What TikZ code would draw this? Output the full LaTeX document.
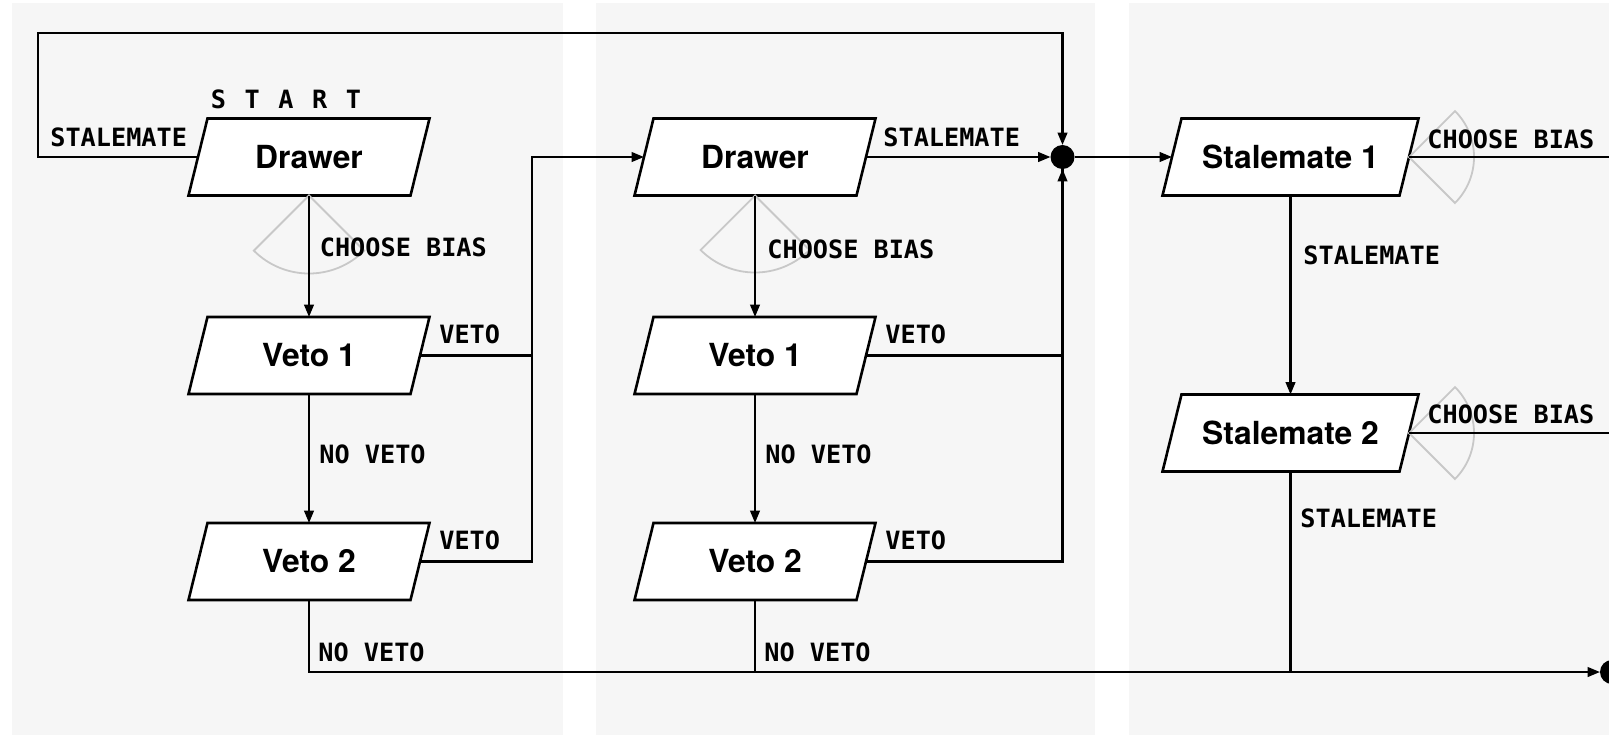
\documentclass[tikz,border=0pt]{standalone}
\usepackage{fontspec}
\usetikzlibrary{arrows.meta,calc}
\newfontfamily\boxfont{TeX Gyre Heros}
\newfontfamily\lblfont{DejaVu Sans Mono}
\definecolor{panelbg}{HTML}{F6F6F6}
\definecolor{wedgegray}{HTML}{C8C8C8}
\pgfdeclarelayer{panels}
\pgfdeclarelayer{shapes}
\pgfsetlayers{panels,shapes,main}

\begin{document}
\begin{tikzpicture}[x=0.5pt,y=-0.5pt,
  stepbox/.style={rectangle, minimum width=111pt, minimum height=38.5pt,
    inner sep=0pt, outer sep=0pt,
    font=\boxfont\bfseries\fontsize{15.9}{18}\selectfont},
  widebox/.style={stepbox, minimum width=118.5pt},
  boxline/.style={draw=black, line width=1.3pt, fill=white, line join=miter},
  conn/.style={draw=black, line width=1.1pt},
  arr/.style={conn, -{Triangle[length=6.2pt,width=4.8pt]}},
  wedge/.style={draw=wedgegray, line width=0.9pt},
  dot/.style={circle, fill=black, minimum size=12pt, inner sep=0pt, outer sep=0pt},
  lbl/.style={inner sep=0pt, anchor=west,
    font=\lblfont\bfseries\fontsize{12.6}{15}\selectfont},
  panel/.style={fill=panelbg, draw=none}
]
\useasboundingbox (0,0) rectangle (1609,735);
\clip (0,0) rectangle (1609,735);

% background columns
\begin{pgfonlayer}{panels}
  \fill[white] (0,0) rectangle (1609,735);
  \path[panel] (12,3) rectangle (563,735);
  \path[panel] (596,3) rectangle (1095,735);
  \path[panel] (1129,3) rectangle (1609,735);
\end{pgfonlayer}

% steps
\node[stepbox] (d1)  at (309,157)   {Drawer};
\node[stepbox] (v1a) at (309,355.5) {Veto 1};
\node[stepbox] (v2a) at (309,561.5) {Veto 2};
\node[stepbox] (d2)  at (755,157)   {Drawer};
\node[stepbox] (v1b) at (755,355.5) {Veto 1};
\node[stepbox] (v2b) at (755,561.5) {Veto 2};
\node[widebox] (s1)  at (1290.5,157) {Stalemate 1};
\node[widebox] (s2)  at (1290.5,433) {Stalemate 2};

% slanted outlines behind the step labels
\begin{pgfonlayer}{shapes}
\foreach \n in {d1,v1a,v2a,d2,v1b,v2b,s1,s2}{
  \path[boxline] ($(\n.north west)+(9.5,0)$) -- ($(\n.north east)+(9.5,0)$)
    -- ($(\n.south east)+(-9.5,0)$) -- ($(\n.south west)+(-9.5,0)$) -- cycle;
}
\end{pgfonlayer}

% junctions and helper points
\node[dot] (j1)   at (1062.5,157) {};
\node[dot] (jend) at (1612,672) {};
\coordinate (loopL) at (38,33);
\coordinate (kA) at (532,157);
\coordinate (cb1) at (1609,157);
\coordinate (cb2) at (1609,433);

% bias wedges
\draw[wedge] (d1.south) -- ++(45:78) arc[start angle=45, end angle=135, radius=78] -- cycle;
\draw[wedge] (d2.south) -- ++(45:77) arc[start angle=45, end angle=135, radius=77] -- cycle;
\draw[wedge] (s1.east) -- ++(-45:65) arc[start angle=-45, end angle=45, radius=65] -- cycle;
\draw[wedge] (s2.east) -- ++(-45:65) arc[start angle=-45, end angle=45, radius=65] -- cycle;

% connectors, first round
\draw[arr] (d1.west) -| (loopL) -| (j1);
\draw[arr] (d1.south) -- (v1a.north);
\draw[arr] (v1a.south) -- (v2a.north);
\draw[conn] (v1a.east) -| (kA);
\draw[arr] (v2a.east) -| (kA) -- (d2.west);

% connectors, second round
\draw[arr] (d2.east) -- (j1);
\draw[arr] (d2.south) -- (v1b.north);
\draw[arr] (v1b.south) -- (v2b.north);
\draw[conn] (v1b.east) -| (j1.south);
\draw[arr] (v2b.east) -| (j1);

% stalemate rounds
\draw[arr] (j1) -- (s1.west);
\draw[arr] (s1.south) -- (s2.north);
\draw[conn] (s1.east) -- (cb1);
\draw[conn] (s2.east) -- (cb2);

% final no-veto line
\draw[arr] (v2a.south) |- (jend);
\draw[conn] (v2b.south) -- (v2b.south |- jend);
\draw[conn] (s2.south) -- (s2.south |- jend);

% labels
\node[lbl] (tstart) at (286,99) [anchor=center,
  font=\lblfont\bfseries\fontsize{12.6}{15}\selectfont]
  {S\hspace{9.3pt}T\hspace{9.3pt}A\hspace{9.3pt}R\hspace{9.3pt}T};
\node[lbl] (t1) at (50,137) {STALEMATE};
\node[lbl] (t2) at (319.5,247) {CHOOSE BIAS};
\node[lbl] (t3) at (439,334) {VETO};
\node[lbl] (t4) at (319,454) {NO VETO};
\node[lbl] (t5) at (439,540) {VETO};
\node[lbl] (t6) at (318,652) {NO VETO};
\node[lbl] (t7) at (883,137) {STALEMATE};
\node[lbl] (t8) at (767,249) {CHOOSE BIAS};
\node[lbl] (t9) at (885,334) {VETO};
\node[lbl] (t10) at (765,454) {NO VETO};
\node[lbl] (t11) at (885,540) {VETO};
\node[lbl] (t12) at (764,652) {NO VETO};
\node[lbl] (t13) at (1427,139) {CHOOSE BIAS};
\node[lbl] (t14) at (1303,255) {STALEMATE};
\node[lbl] (t15) at (1427,414) {CHOOSE BIAS};
\node[lbl] (t16) at (1300,518) {STALEMATE};
\end{tikzpicture}
\end{document}
